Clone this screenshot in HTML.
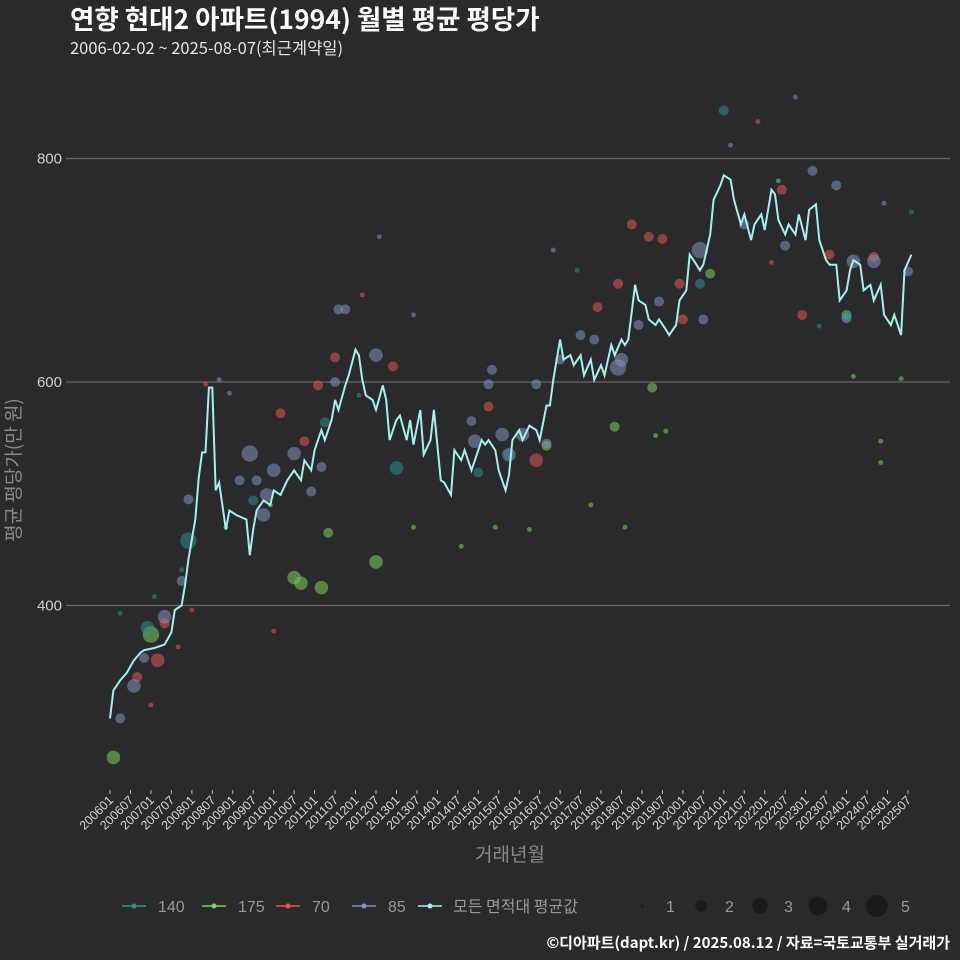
<!DOCTYPE html>
<html><head><meta charset="utf-8">
<style>
html,body{margin:0;padding:0;background:#2a292b;}
svg{display:block;font-family:"Liberation Sans","Noto Sans CJK KR",sans-serif;}
.kr{font-family:"Noto Sans CJK KR","Liberation Sans",sans-serif;}
</style></head>
<body>
<svg id="chart" width="960" height="960" viewBox="0 0 960 960" xmlns="http://www.w3.org/2000/svg">
<rect width="960" height="960" fill="#2a292b"/>
<text class="kr" x="70" y="29" font-size="26.5" font-weight="bold" fill="#ffffff">연향 현대2 아파트(1994) 월별 평균 평당가</text>
<text class="kr" x="70" y="54" font-size="16.5" fill="#e6e6e6">2006-02-02 ~ 2025-08-07(최근계약일)</text>
<g id="grid"></g>
<g id="points"></g>
<path id="avgline" fill="none" stroke="#a8f0ec" stroke-width="2"/>
<g id="xaxis"></g>
<text class="kr" x="510" y="861" font-size="19" fill="#8a8a8a" text-anchor="middle">거래년월</text>
<text class="kr" transform="translate(20,470) rotate(-90)" font-size="19" fill="#8a8a8a" text-anchor="middle">평균 평당가(만 원)</text>
<g id="legend"></g>
<text class="kr" x="950" y="948" font-size="15" font-weight="bold" fill="#ffffff" text-anchor="end">©디아파트(dapt.kr) / 2025.08.12 / 자료=국토교통부 실거래가</text>
</svg>
<script>
// months since 2006-01
const lineMonths=[0,1,3,5,7,9,10,13,16,18,19,21,22,23,25,26,27,28,29,30,31,32,34,35,37,40,41,42,43,45,47,48,50,52,54,56,57,59,60,62,63,65,66,67,69,70,72,73,74,75,77,78,80,81,82,84,85,87,88,89,91,92,94,95,97,98,100,101,103,104,106,107,109,110,111,113,114,116,117,118,120,121,123,125,126,128,129,130,132,133,135,136,138,139,141,142,144,145,147,148,150,151,152,154,155,157,158,160,161,163,164,166,167,169,170,172,173,174,176,177,179,180,182,183,185,186,188,189,191,192,194,195,196,198,199,201,202,204,205,207,208,210,211,213,214,216,217,218,220,221,223,224,226,227,229,230,232,233,235];
const lineValues=[299,324,333,340,351,358,360,362,365,376,396,400,418,441,477,514,537,537,595,595,503,510,468,485,481,477,445,468,485,494,490,503,499,512,521,512,530,521,539,557,548,566,584,575,597,606,629,624,602,588,584,575,597,584,548,566,570,548,566,544,575,535,548,575,512,510,499,539,530,539,521,530,548,544,548,539,521,503,517,548,557,548,561,557,548,579,579,602,638,620,624,615,624,606,620,602,615,606,633,624,638,633,638,687,673,669,656,651,656,647,642,651,673,682,714,705,700,705,732,763,776,785,781,763,741,750,727,741,750,736,772,768,745,732,741,732,750,727,754,759,727,709,705,705,673,682,700,709,705,682,687,673,687,660,651,660,642,700,714];
const seriesNames=["140","175","70","85"];
const seriesColors=["#2f8f8a","#7fd05e","#e2575a","#8493b8"];
// scatter: area index, month, value, count
const ptArea=[1,1,1,1,1,1,1,1,1,1,1,1,1,1, 1,1,1,1,1,1,1,1,1,1,1,1,1,
2,2,2,2,2,2,2,2,2,2,2,2,2,2,2,2,2,2,2, 2,2,2,2,2,2,2,2,2,2,
3,3,3,3,3,3,3,3,3,3,3,3,3,3,3,3,3,3,3,3,3,3,3,3,3,3,3,3,3,3,3,3,3,3,3,3,3,3,3,3,3,3,3,3, 3,3,3,3,3,3,3,3,3,
0,0,0,0,0,0,0,0,0,0, 0,0,0,0,0,0,0];
const ptMonth=[1,12,54,56,62,64,78,128,148,159,176,216,89, 103,113,123,141,151,160,163,196,226,226,232,218,34,47,
14,8,16,50,57,61,66,83,111,125,143,149,153,158,162,167,168,197,203, 211,224,12,20,24,28,48,74,190,194,
3,7,10,16,21,23,41,38,43,45,46,48,54,59,62,66,67,69,78,106,107,111,112,115,117,121,125,128,132,138,142,149,150,155,161,173,174,186,198,206,213,216,218,224,234, 32,35,79,89,130,182,201,227,235,
11,23,42,63,84,108,117,180,173,216, 3,13,21,73,137,208,230];
const ptValue=[264,374,425,420,416,465,439,543,560,595,697,660,470, 453,470,468,490,470,552,556,780,528,547,603,605,470,490,
351,336,384,572,547,597,622,614,578,530,667,688,741,730,728,688,656,772,660, 714,712,311,363,396,598,377,678,833,707,
299,328,353,390,422,495,536,512,512,481,499,521,536,502,524,600,665,665,624,565,547,598,611,553,535,553,598,545,620,642,638,613,620,651,672,718,656,741,722,789,776,657,708,708,699, 602,590,730,660,718,812,855,760,752,
380,458,494,564,523,519,535,843,688,658, 393,408,432,588,700,650,630];
const ptCount=[3,4,3,3,3,2,3,2,2,2,2,2,1, 1,1,1,1,1,1,1,1,1,1,1,1,1,1,
3,2,2,2,2,2,2,2,2,3,2,2,2,2,2,2,2,2,2, 2,2,1,1,1,1,1,1,1,1,
2,3,2,3,2,2,4,2,2,3,3,3,3,2,2,2,2,2,3,2,3,2,2,3,3,3,2,2,2,2,2,4,3,2,2,4,2,2,2,2,2,2,3,3,2, 1,1,1,1,1,1,1,1,1,
3,4,2,2,3,2,2,2,2,2, 1,1,1,1,1,1,1];
const yTicks=[400,600,800];
const xTickLabels=["200601","200607","200701","200707","200801","200807","200901","200907","201001","201007","201101","201107","201201","201207","201301","201307","201401","201407","201501","201507","201601","201607","201701","201707","201801","201807","201901","201907","202001","202007","202101","202107","202201","202207","202301","202307","202401","202407","202501","202507"];
const sizeLevels=[1,2,3,4,5];

const NS="http://www.w3.org/2000/svg";
function xs(m){return 110+m*3.41;}
function ys(v){return 382-(v-600)*1.1175;}
function rs(c){return [0,2.5,5,6.8,8.2,9.5][c]||9.5;}
function mk(tag,attrs,parent){const e=document.createElementNS(NS,tag);for(const k in attrs)e.setAttribute(k,attrs[k]);parent.appendChild(e);return e;}

const grid=document.getElementById('grid');
yTicks.forEach(t=>{
  const l=mk('line',{x1:66,x2:950,y1:ys(t),y2:ys(t),stroke:'#6a6a6a','stroke-width':1.2},grid);
  
  
  const tx=mk('text',{x:62,y:ys(t)+5,'font-size':15,fill:'#d0d0d0','text-anchor':'end'},grid);
  tx.textContent=t;
  
  
});

const pts=document.getElementById('points');
const nPts=Math.min(ptArea.length,ptMonth.length,ptValue.length,ptCount.length);
for(let i=0;i<nPts;i++){
  if(ptMonth[i]===undefined||ptValue[i]===undefined)continue;
  const c=mk('circle',{cx:xs(ptMonth[i]),cy:ys(ptValue[i]),r:rs(ptCount[i]||1),fill:seriesColors[ptArea[i]],'fill-opacity':0.55},pts);
  
  
}

let d='';
lineMonths.forEach((m,i)=>{d+=(i?'L':'M')+xs(m).toFixed(1)+','+ys(lineValues[i]).toFixed(1);});
document.getElementById('avgline').setAttribute('d',d);

const xa=document.getElementById('xaxis');
xTickLabels.forEach((lab,i)=>{
  const x=xs(i*6);
  const tk=mk('line',{x1:x,x2:x,y1:790,y2:794,stroke:'#bbbbbb','stroke-width':1},xa);
  
  
  const t=mk('text',{transform:`translate(${x+4},${801}) rotate(-45)`,'font-size':12.5,fill:'#d8d8d8','text-anchor':'end'},xa);
  t.textContent=lab;
  
  
});

const lg=document.getElementById('legend');
const lgX=[122,202,276,352];
seriesNames.forEach((n,i)=>{
  const g=mk('g',{},lg);
  
  
  mk('line',{x1:lgX[i],x2:lgX[i]+24,y1:906,y2:906,stroke:seriesColors[i],'stroke-width':1.6},g);
  mk('circle',{cx:lgX[i]+12,cy:906,r:2.5,fill:seriesColors[i]},g);
  const t=mk('text',{x:lgX[i]+36,y:912,'font-size':16,fill:'#9a9a9a'},g);
  t.textContent=n;
});
{
  const g=mk('g',{},lg);
  
  
  mk('line',{x1:418,x2:442,y1:906,y2:906,stroke:'#a8f0ec','stroke-width':1.6},g);
  mk('circle',{cx:430,cy:906,r:2.5,fill:'#a8f0ec'},g);
  const t=mk('text',{x:453,y:912,'font-size':16,fill:'#9a9a9a','class':'kr'},g);
  t.textContent='모든 면적대 평균값';
}
const szX=[642,701,760,818,877];
sizeLevels.forEach((s,i)=>{
  const g=mk('g',{},lg);
  
  
  mk('circle',{cx:szX[i],cy:906,r:rs(s)*(s===1?0.6:1.15),fill:'#1a1a1b'},g);
  const t=mk('text',{x:szX[i]+24,y:912,'font-size':16,fill:'#9a9a9a'},g);
  t.textContent=s;
});
</script>
</body></html>
